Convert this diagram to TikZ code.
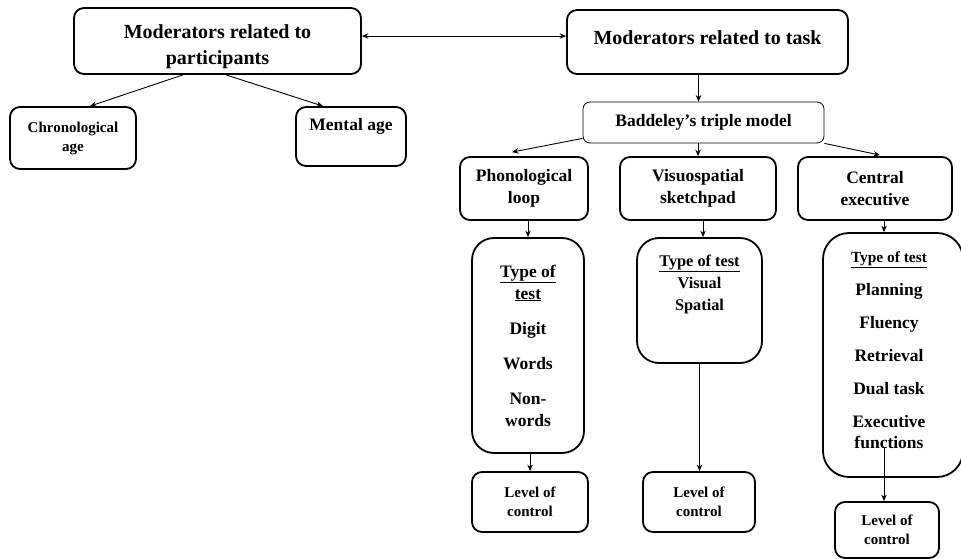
\documentclass[tikz,border=0pt]{standalone}
\usepackage{fontspec}
\setmainfont{Liberation Serif}
\usetikzlibrary{arrows.meta}
\begin{document}
\begin{tikzpicture}[x=1pt, y=-1pt, >={Stealth[length=6.5pt, width=5.5pt]},
	box/.style={draw, rounded corners=10pt, line width=1.8pt, align=center, inner sep=0pt, font=\bfseries\fontsize{17.5}{22}\selectfont},
	big/.style={font=\bfseries\fontsize{20}{26}\selectfont, align=center},
	small/.style={font=\bfseries\fontsize{15}{19}\selectfont},
	testbox/.style={box, rounded corners=22pt},
	thinbox/.style={box, line width=0.8pt, rounded corners=7pt},
	link/.style={->, line width=0.9pt}]
	\useasboundingbox (0,0) rectangle (961,559);
	% top level
	\node[box, minimum width=287, minimum height=66] (1) at (217.5,41) {};
	\node[big] (1a) at (217.5,47) {Moderators related to\\participants};
	\node[box, minimum width=281, minimum height=64] (2) at (707.5,42) {};
	\node[big] (2a) at (707.5,38) {Moderators related to task};
	\node[box, small, minimum width=126, minimum height=62] (3) at (73,138) {Chronological\\age};
	\node[box, minimum width=110, minimum height=59] (4) at (351,136.5) {};
	\node[font=\bfseries\fontsize{17.5}{22}\selectfont] (4a) at (351,126) {Mental age};
	\node[thinbox, minimum width=241, minimum height=41] (5) at (703.5,122.5) {Baddeley’s triple model};
	% components
	\node[box, minimum width=128, minimum height=63] (6) at (524,188.5) {Phonological\\loop};
	\node[box, minimum width=156, minimum height=63] (7) at (698,188.5) {Visuospatial\\sketchpad};
	\node[box, minimum width=154, minimum height=63] (8) at (875,188.5) {Central\\executive};
	% type of test
	\node[testbox, minimum width=112, minimum height=215] (9) at (528,345.5) {\underline{Type of}\\\underline{test}\\[13pt]Digit\\[13pt]Words\\[13pt]Non-\\words};
	\node[testbox, minimum width=125, minimum height=125] (10) at (699.5,300.5) {};
	\node[font=\bfseries\fontsize{16.3}{22}\selectfont, align=center] (10a) at (699.5,284) {\underline{Type of test}\\Visual\\Spatial};
	\node[testbox, rounded corners=26pt, minimum width=140, minimum height=244] (11) at (893,355) {};
	\node[font=\bfseries\fontsize{17.5}{21}\selectfont, align=center] (11a) at (889,350) {{\fontsize{15.4}{21}\selectfont\underline{Type of test}}\\[12pt]Planning\\[12pt]Fluency\\[12pt]Retrieval\\[12pt]Dual task\\[12pt]Executive\\functions};
	% level of control
	\node[box, small, minimum width=116, minimum height=60] (12) at (530,502) {Level of\\control};
	\node[box, small, minimum width=112, minimum height=60] (13) at (699,502) {Level of\\control};
	\node[box, small, minimum width=104, minimum height=56] (14) at (887,530) {Level of\\control};
	\coordinate (11b) at (884,448);
	% connectors
	\draw[<->, line width=0.9pt] ([yshift=5pt]1.east) -- ([yshift=6pt]2.west);
	\draw[link] ([xshift=-34.5pt]1.south) -- ([xshift=17pt]3.north);
	\draw[link] ([xshift=8.5pt]1.south) -- ([xshift=-28pt]4.north);
	\draw[link] ([xshift=-9pt]2.south) -- ([xshift=-9pt]2.south |- 5.north);
	\draw[link] ([yshift=5pt]5.south west) -- ([xshift=-12pt, yshift=4pt]6.north);
	\draw[link] (7.north |- 5.south) -- (7.north);
	\draw[link] (5.south east) -- ([xshift=5pt, yshift=1pt]8.north);
	\draw[link] (9.north |- 6.south) -- (9.north);
	\draw[link] ([xshift=3.5pt]10.north |- 7.south) -- ([xshift=3.5pt]10.north);
	\draw[link] ([xshift=-9pt]11.north |- 8.south) -- ([xshift=-9pt]11.north);
	\draw[link] (9.south -| 12.north) -- (12.north);
	\draw[link] (10.south) -- (10.south |- 13.north);
	\draw[link] (11b) -- (11b |- 14.north);
\end{tikzpicture}
\end{document}
